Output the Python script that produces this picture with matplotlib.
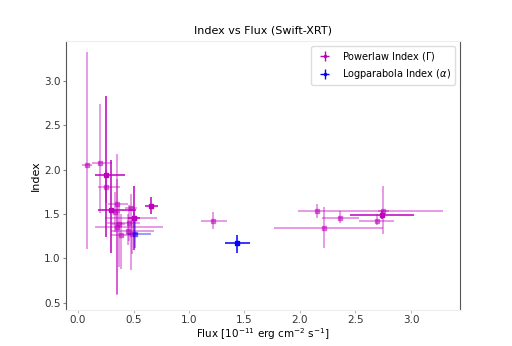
import matplotlib
matplotlib.use("Agg")
import matplotlib.pyplot as plt
import numpy as np

# Powerlaw index points: flux (value, low, high), index (value, low, high), strong flag
pl_flux    = [0.084, 0.195, 0.255, 0.255, 0.354, 0.300, 0.477, 0.505, 0.660, 0.330, 0.505, 0.367, 0.460, 0.354, 0.448, 0.387, 0.484,
              2.150, 2.220, 2.360, 2.690, 2.735, 2.750, 1.220]
pl_flux_lo = [0.036, 0.123, 0.153, 0.176, 0.273, 0.180, 0.420, 0.450, 0.600, 0.290, 0.243, 0.310, 0.260, 0.153, 0.300, 0.300, 0.430,
              1.985, 1.770, 2.195, 2.530, 2.450, 2.700, 1.108]
pl_flux_hi = [0.126, 0.309, 0.426, 0.375, 0.453, 0.520, 0.530, 0.560, 0.720, 0.380, 0.709, 0.420, 0.560, 0.763, 0.685, 0.480, 0.530,
              3.285, 2.750, 2.530, 2.850, 3.030, 2.800, 1.340]
pl_idx     = [2.05, 2.07, 1.94, 1.81, 1.61, 1.55, 1.57, 1.46, 1.59, 1.52, 1.46, 1.39, 1.40, 1.36, 1.31, 1.27, 1.28,
              1.54, 1.345, 1.46, 1.42, 1.485, 1.54, 1.42]
pl_idx_lo  = [1.11, 1.51, 1.24, 1.62, 0.585, 1.06, 0.87, 1.10, 1.50, 1.30, 1.35, 0.90, 1.20, 0.60, 1.15, 0.88, 1.05,
              1.46, 1.12, 1.40, 1.38, 1.44, 1.28, 1.33]
pl_idx_hi  = [3.32, 2.74, 2.83, 2.00, 2.18, 2.11, 1.73, 1.82, 1.69, 1.75, 1.55, 1.60, 1.60, 1.90, 1.50, 1.50, 1.45,
              1.61, 1.58, 1.53, 1.50, 1.53, 1.82, 1.52]
pl_strong  = [0, 0, 1, 0, 0, 1, 0, 1, 1, 0, 0, 0, 0, 0, 0, 0, 0,
              0, 0, 0, 0, 1, 0, 0]

# Logparabola alpha points
lp_flux    = [0.516, 1.435]
lp_flux_lo = [0.453, 1.324]
lp_flux_hi = [0.655, 1.550]
lp_idx     = [1.28, 1.17]
lp_idx_lo  = [1.12, 1.06]
lp_idx_hi  = [1.43, 1.26]
lp_strong  = [0, 1]

fig = plt.figure(figsize=(5.12, 3.46), dpi=100)
ax = fig.add_axes([0.129, 0.104, 0.769, 0.778])

def draw(xs, xl, xh, ys, yl, yh, strong, color, label):
    for i in range(len(xs)):
        a = 1.0 if strong[i] else 0.5
        ax.errorbar(xs[i], ys[i],
                    xerr=[[xs[i] - xl[i]], [xh[i] - xs[i]]],
                    yerr=[[ys[i] - yl[i]], [yh[i] - ys[i]]],
                    fmt='s', ms=3.3, color=color, ecolor=color, elinewidth=1.1,
                    alpha=a)
    ax.errorbar([], [], xerr=[], yerr=[], fmt='.', ms=3, color=color, elinewidth=1, label=label)

draw(pl_flux, pl_flux_lo, pl_flux_hi, pl_idx, pl_idx_lo, pl_idx_hi, pl_strong, 'm', r'Powerlaw Index ($\Gamma$)')
draw(lp_flux, lp_flux_lo, lp_flux_hi, lp_idx, lp_idx_lo, lp_idx_hi, lp_strong, 'b', r'Logparabola Index ($\alpha$)')

ax.set_xlim(-0.108, 3.44)
ax.set_ylim(0.42, 3.45)
ax.set_xticks([0.0, 0.5, 1.0, 1.5, 2.0, 2.5, 3.0])
ax.set_yticks([0.5, 1.0, 1.5, 2.0, 2.5, 3.0])
ax.tick_params(labelsize=7.5, colors='#333333', length=2)
ax.tick_params(axis='x', color='#bbbbbb', pad=1.5)
ax.tick_params(axis='y', color='#888888', pad=2)
for s in ['left', 'right']:
    ax.spines[s].set_color('#555555')
for s in ['top', 'bottom']:
    ax.spines[s].set_color('#eeeeee')

ax.set_title('Index vs Flux (Swift-XRT)', fontsize=8, pad=5)
ax.set_xlabel(r'Flux [$10^{-11}$ erg cm$^{-2}$ s$^{-1}$]', fontsize=7.5, labelpad=1)
ax.set_ylabel('Index', fontsize=8, labelpad=2)
leg = ax.legend(loc='upper right', fontsize=7, framealpha=1)
leg.get_frame().set_edgecolor('#dddddd')

fig.savefig('out.png', dpi=100)
